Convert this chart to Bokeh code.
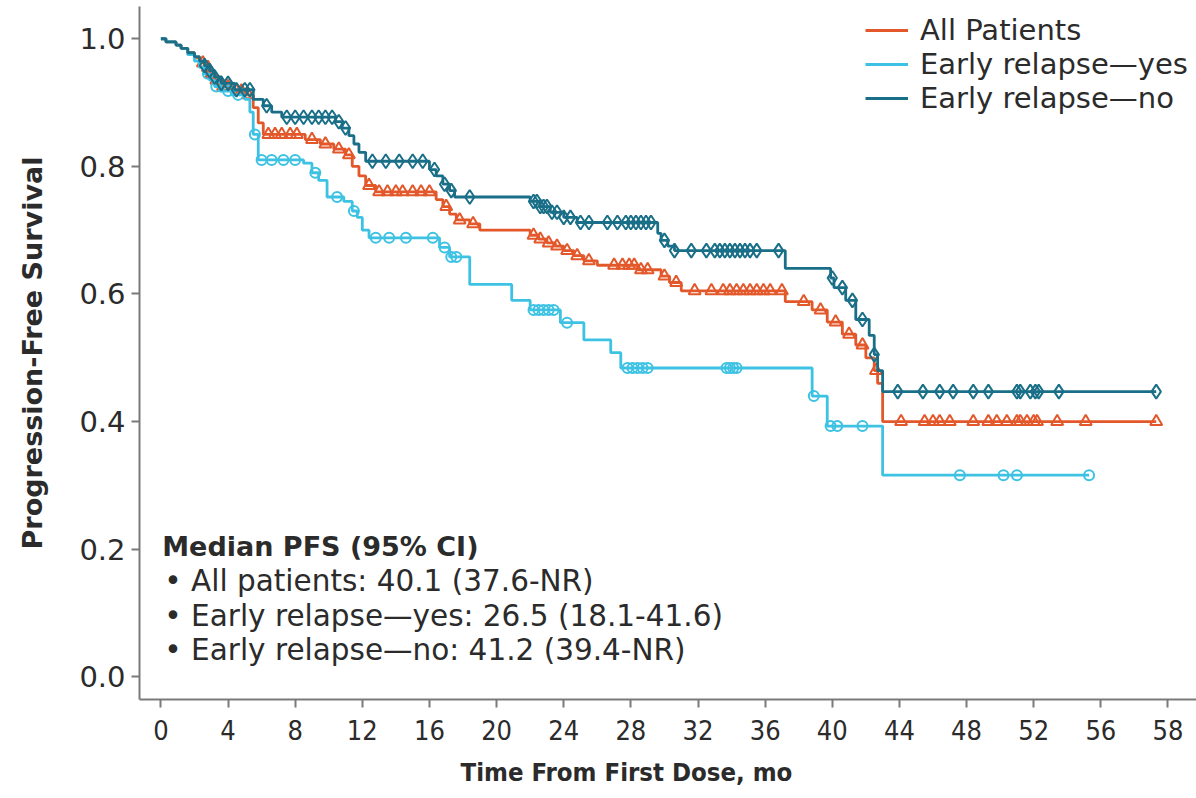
import numpy as np
from bokeh.plotting import figure
from bokeh.models import FixedTicker, Range1d, Legend, LegendItem, Label, PrintfTickFormatter, Title
from bokeh.embed import file_html
from bokeh.resources import INLINE

# ---------------- data ----------------
# All patients: step times (mo) and survival after each step
all_t = [0, 0.3, 0.9, 1.2, 1.6, 2.0, 2.3, 2.6, 2.9, 3.2, 3.5, 4.2, 5.0, 5.5, 5.8, 6.1, 8.6, 9.5, 10.3, 11.0,
         11.4, 11.8, 12.2, 12.8, 16.4, 16.8, 17.2, 17.6, 18.4, 19.0, 22.0, 22.5, 23.0, 23.5, 24.0, 24.6, 25.2,
         26.0, 28.4, 29.8, 30.3, 31.0, 37.2, 38.8, 39.7, 40.6, 41.4, 42.0, 42.5, 42.7, 43.0]
all_s = [1.0, 0.995, 0.99, 0.985, 0.978, 0.97, 0.962, 0.955, 0.945, 0.935, 0.925, 0.918, 0.912, 0.892, 0.868,
         0.85, 0.842, 0.835, 0.827, 0.818, 0.80, 0.785, 0.77, 0.76, 0.748, 0.737, 0.725, 0.716, 0.71, 0.70, 0.692,
         0.686, 0.68, 0.675, 0.668, 0.66, 0.652, 0.645, 0.638, 0.628, 0.618, 0.605, 0.588, 0.575, 0.556, 0.537,
         0.52, 0.50, 0.48, 0.46, 0.40]
all_end = 59.3
all_cens = [2.5, 2.8, 3.0, 3.3, 3.7, 4.0, 4.5, 4.8, 5.2, 6.4, 6.8, 7.2, 7.7, 8.1, 9.0, 9.8, 10.6, 11.2, 12.4,
            13.0, 13.5, 14.0, 14.4, 15.0, 15.5, 16.0, 17.0, 17.8, 18.6, 22.2, 22.6, 23.1, 23.6, 24.2, 24.8,
            25.5, 27.0, 27.5, 27.9, 28.2, 28.6, 29.0, 30.0, 30.7, 31.8, 32.8, 33.5, 33.9, 34.3, 34.7, 35.1,
            35.5, 35.9, 36.3, 37.0, 38.3, 39.3, 40.2, 41.0, 41.8, 42.6, 44.1, 45.5, 46.0, 46.4, 47.0, 48.4,
            49.3, 49.8, 50.4, 51.0, 51.2, 51.6, 52.0, 52.2, 53.4, 55.1, 59.3]

# Early relapse - yes
yes_t = [0, 0.3, 0.9, 1.2, 1.6, 2.0, 2.3, 2.6, 2.9, 3.2, 3.5, 4.2, 5.0, 5.3, 5.5, 5.8, 8.5, 9.0, 9.4, 9.9,
         10.9, 11.4, 11.7, 12.0, 12.4, 16.6, 17.2, 18.4, 20.9, 22.0, 23.8, 25.2, 26.8, 27.4, 38.8, 39.7, 43.0]
yes_s = [1.0, 0.995, 0.99, 0.985, 0.975, 0.965, 0.955, 0.945, 0.935, 0.925, 0.918, 0.912, 0.905, 0.885, 0.85,
         0.81, 0.805, 0.79, 0.778, 0.752, 0.745, 0.73, 0.72, 0.70, 0.688, 0.673, 0.658, 0.615, 0.59, 0.575,
         0.555, 0.528, 0.508, 0.484, 0.44, 0.393, 0.316]
yes_end = 55.3
yes_cens = [2.8, 3.3, 4.0, 4.6, 5.6, 6.0, 6.6, 7.3, 8.0, 9.2, 10.5, 11.5, 12.8, 13.6, 14.6, 16.2, 16.9, 17.3,
            17.6, 22.2, 22.5, 22.8, 23.1, 23.4, 24.2, 27.8, 28.1, 28.4, 28.7, 29.0, 33.7, 33.9, 34.1, 34.3,
            38.9, 39.9, 40.3, 41.8, 47.6, 50.2, 51.0, 55.3]

# Early relapse - no
no_t = [0, 0.3, 0.9, 1.2, 1.6, 2.0, 2.3, 2.6, 2.9, 3.2, 3.6, 4.4, 5.5, 6.1, 6.6, 7.2, 10.4, 10.8, 11.2, 11.5,
        11.8, 12.2, 16.0, 16.4, 16.8, 17.2, 17.5, 22.0, 22.6, 23.2, 24.0, 24.8, 29.6, 29.8, 30.2, 30.6, 37.2,
        39.9, 40.1, 40.8, 41.4, 42.2, 42.5, 42.7, 43.0]
no_s = [1.0, 0.995, 0.99, 0.985, 0.978, 0.972, 0.965, 0.958, 0.95, 0.94, 0.93, 0.92, 0.905, 0.895, 0.885,
        0.877, 0.87, 0.86, 0.848, 0.835, 0.822, 0.808, 0.795, 0.785, 0.772, 0.762, 0.752, 0.745, 0.737, 0.728,
        0.72, 0.712, 0.695, 0.684, 0.675, 0.668, 0.64, 0.625, 0.61, 0.59, 0.56, 0.535, 0.505, 0.48, 0.447]
no_end = 59.3
no_cens = [2.6, 2.9, 3.2, 3.6, 4.0, 4.5, 5.0, 5.3, 6.3, 7.5, 8.0, 8.5, 9.0, 9.4, 9.8, 10.2, 10.6, 11.0, 12.6,
           13.4, 14.2, 15.0, 15.6, 16.3, 16.9, 17.3, 18.4, 22.2, 22.4, 22.6, 22.8, 23.0, 23.3, 23.6, 24.0,
           24.4, 25.0, 25.5, 26.6, 27.2, 27.7, 28.0, 28.3, 28.6, 28.9, 29.2, 30.0, 30.6, 31.6, 32.5, 33.0,
           33.3, 33.6, 33.9, 34.2, 34.5, 34.8, 35.1, 35.5, 36.8, 40.0, 40.6, 41.2, 41.8, 42.5, 43.9, 45.4,
           46.4, 47.2, 48.4, 49.3, 51.0, 51.2, 51.8, 52.1, 52.3, 53.5, 59.3]

x_ticks = [0, 4, 8, 12, 16, 20, 24, 28, 32, 36, 40, 44, 48, 52, 56, 60]
x_tick_labels = ["0", "4", "8", "12", "16", "20", "24", "28", "32", "36", "40", "44", "48", "52", "56", "58"]
y_ticks = [0.0, 0.2, 0.4, 0.6, 0.8, 1.0]

legend_labels = ["All Patients", "Early relapse\u2014yes", "Early relapse\u2014no"]
median_lines = ["Median PFS (95% CI)",
                "\u2022 All patients: 40.1 (37.6-NR)",
                "\u2022 Early relapse\u2014yes: 26.5 (18.1-41.6)",
                "\u2022 Early relapse\u2014no: 41.2 (39.4-NR)"]

# ---------------- styling ----------------
ORANGE = "#E3582B"
CYAN = "#3DC2E3"
TEAL = "#1A6F88"
FONT = "DejaVu Sans"
CFONT = "DejaVu Sans Condensed"
TXT = "#2b2b2b"
AX = "#7a7a7a"


def surv_at(ts, ss, t):
    idx = np.searchsorted(np.asarray(ts), np.asarray(t), side="right") - 1
    return np.asarray(ss)[idx]


p = figure(width=1196, height=798, output_backend="svg", toolbar_location=None,
           x_range=Range1d(-1.275, 61.7), y_range=Range1d(-0.0355, 1.0505),
           min_border_left=139, min_border_right=0, min_border_top=6, min_border_bottom=97)
p.outline_line_color = None
p.xgrid.grid_line_color = None
p.ygrid.grid_line_color = None
p.background_fill_color = "white"
p.border_fill_color = "white"

curves = [
    (all_t, all_s, all_end, all_cens, ORANGE, "triangle", 12),
    (yes_t, yes_s, yes_end, yes_cens, CYAN, "circle", 10),
    (no_t, no_s, no_end, no_cens, TEAL, "diamond", 14),
]
renderers = []
for ts, ss, tend, cens, col, mk, sz in curves:
    xs = list(ts) + [tend]
    ys = list(ss) + [ss[-1]]
    r = p.step(xs, ys, mode="after", line_color=col, line_width=2.8)
    renderers.append(r)
    cy = surv_at(ts, ss, cens)
    p.scatter(cens, cy, marker=mk, size=sz, line_color=col, line_width=2.0, fill_color="white", fill_alpha=0.0)

# axes
for ax in (p.xaxis[0], p.yaxis[0]):
    ax.axis_line_color = AX
    ax.axis_line_width = 2
    ax.major_tick_line_color = AX
    ax.major_tick_line_width = 2
    ax.major_tick_out = 8
    ax.major_tick_in = 0
    ax.minor_tick_line_color = None
    ax.major_label_text_color = TXT

p.xaxis.ticker = FixedTicker(ticks=x_ticks)
p.xaxis.major_label_overrides = {t: l for t, l in zip(x_ticks, x_tick_labels)}
p.xaxis.major_label_text_font = CFONT
p.xaxis.major_label_text_font_size = "27px"
p.xaxis.major_label_standoff = 12

p.yaxis.ticker = FixedTicker(ticks=y_ticks)
p.yaxis.formatter = PrintfTickFormatter(format="%.1f")
p.yaxis.major_label_text_font = FONT
p.yaxis.major_label_text_font_size = "29px"
p.yaxis.major_label_standoff = 6
p.yaxis.axis_label = "Progression-Free Survival"
p.yaxis.axis_label_text_font = FONT
p.yaxis.axis_label_text_font_style = "bold"
p.yaxis.axis_label_text_font_size = "27px"
p.yaxis.axis_label_text_color = TXT
p.yaxis.axis_label_standoff = 28

# x axis title, placed left of the frame centre as in the reference
p.add_layout(Title(text="Time From First Dose, mo", align="left", offset=321, standoff=24,
                   text_font=CFONT, text_font_style="bold", text_font_size="25.5px",
                   text_color=TXT), "below")

# median PFS block
ys_lab = [0.2036, 0.1506, 0.0961, 0.0414]
for i, (txt, yy) in enumerate(zip(median_lines, ys_lab)):
    p.add_layout(Label(x=0.08 if i == 0 else 0.2, y=yy, text=txt, text_baseline="middle",
                       text_font=FONT, text_font_style="bold" if i == 0 else "normal",
                       text_font_size="27px" if i == 0 else "29.5px", text_color=TXT))

legend = Legend(items=[LegendItem(label=l, renderers=[r]) for l, r in zip(legend_labels, renderers)],
                location=(726, 584), margin=0, padding=0, spacing=0,
                glyph_width=43, glyph_height=34, label_height=34, label_standoff=12,
                label_text_font=FONT, label_text_font_size="29px", label_text_color=TXT,
                border_line_color=None, background_fill_alpha=0.0)
p.add_layout(legend)

open("out.html", "w").write(file_html(p, INLINE))
